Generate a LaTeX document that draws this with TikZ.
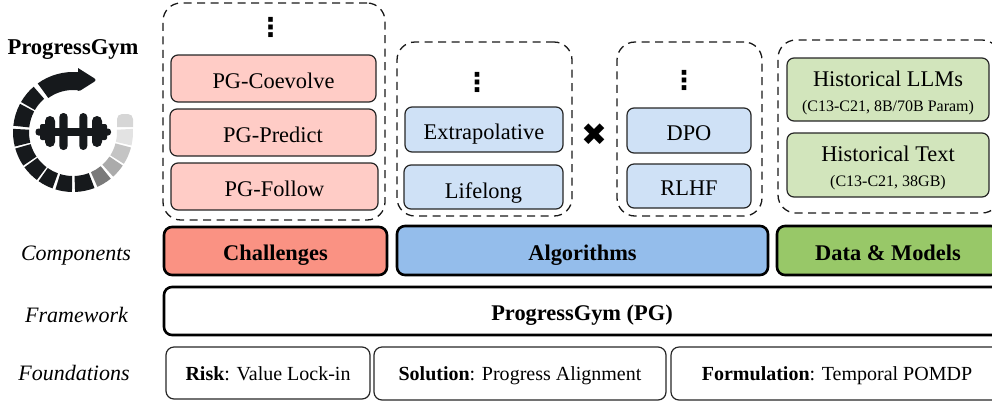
\documentclass[tikz,border=0pt]{standalone}
\usepackage{fontspec}
\setmainfont{Liberation Serif}
\newfontfamily\symbolfont{DejaVu Sans}
\usetikzlibrary{positioning}
\definecolor{pglogo}{RGB}{22,25,28}
\definecolor{challengepink}{RGB}{255,204,198}
\definecolor{challengered}{RGB}{250,146,131}
\definecolor{algolight}{RGB}{207,225,246}
\definecolor{algoblue}{RGB}{148,189,235}
\definecolor{datalight}{RGB}{210,229,188}
\definecolor{datagreen}{RGB}{152,200,104}
\tikzset{
  itembox/.style={draw=black!85,line width=1.2pt,rounded corners=7pt,inner sep=0pt,text height=20pt,text depth=0.6pt,font=\fontsize{22.4}{24}\selectfont},
  databox/.style={draw=black!85,line width=1.2pt,rounded corners=7pt,inner sep=0pt,align=center,font=\fontsize{22.4}{24}\selectfont},
  groupbox/.style={draw=black!90,line width=1.3pt,dash pattern=on 8pt off 5.5pt,rounded corners=18pt,inner sep=0pt},
  layerbox/.style={draw=black,line width=2.6pt,rounded corners=8pt,inner sep=0pt,text height=20pt,text depth=0.6pt,font=\fontsize{22.4}{24}\selectfont\bfseries},
  basebox/.style={draw=black!85,line width=1.2pt,rounded corners=8pt,inner sep=0pt,text height=14.5pt,text depth=0.5pt,font=\fontsize{20}{22}\selectfont},
  rowlabel/.style={anchor=base,font=\fontsize{22}{24}\selectfont\itshape},
  moredots/.style={font=\fontsize{26}{26}\symbolfont\bfseries}
}
\newcommand{\ringseg}[3]{\fill[#1] (#2:60pt) arc[start angle=#2,end angle=#3,radius=60pt] -- (#3:44pt) arc[start angle=#3,end angle=#2,radius=44pt] -- cycle;}
\newcommand{\subtext}[1]{{\fontsize{16}{17}\selectfont #1}}
\begin{document}
\begin{tikzpicture}[x=1pt,y=-1pt]
\useasboundingbox (0,0) rectangle (992,400);
% Logo
\node[anchor=base,font=\fontsize{22.6}{24}\selectfont\bfseries] (logotitle) at (73,54.3) {ProgressGym};
\begin{scope}[shift={(73,132)},y=1pt]
\foreach \startang/\endang in {-69/-88,-91/-107,-110/-125,-127/-144,-146/-164,-166/-183,-186/-208,-210/-229}
  {\ringseg{pglogo}{\startang}{\endang}}
\ringseg{black!52}{-51}{-66}
\ringseg{black!33}{-34}{-48}
\ringseg{black!23}{-15}{-32}
\ringseg{black!11}{3}{-13}
\fill[black!16] (44,5) -- (60,5) [rounded corners=5pt] -- (60,18) -- (44,18) [sharp corners] -- cycle;
\fill[pglogo] (126:60pt) arc[start angle=126,end angle=85,radius=60pt] -- (5,64) [rounded corners=3pt] -- (24,52) -- (5,40) [sharp corners] -- (85:42pt) arc[start angle=85,end angle=126,radius=42pt] -- cycle;
% Dumbbell
\fill[pglogo,rounded corners=3pt] (-37.5,-3.5) rectangle (38,3.5);
\fill[pglogo] (-19,-4) rectangle (20,4);
\fill[pglogo,rounded corners=4pt] (-13.7,-18) rectangle (-5.3,19);
\fill[pglogo,rounded corners=4pt] (6.3,-18) rectangle (14.3,19);
\fill[pglogo,rounded corners=5pt] (-28,-15) rectangle (-18,16);
\fill[pglogo,rounded corners=5pt] (19,-15) rectangle (29,16);
\fill[pglogo,rounded corners=2pt] (-33,-8) rectangle (-25,8);
\fill[pglogo,rounded corners=2pt] (26,-8) rectangle (34,8);
\end{scope}
% Dashed groups
\node[groupbox,minimum width=222pt,minimum height=217pt] (challengegroup) at (274,111.5) {};
\node[groupbox,minimum width=175pt,minimum height=174pt] (algogroup) at (484.5,129) {};
\node[groupbox,minimum width=145pt,minimum height=174pt] (rewardgroup) at (689.5,129) {};
\node[groupbox,minimum width=222pt,minimum height=173pt] (datagroup) at (889,126.5) {};
\node[moredots] (challengedots) at (270.5,27.5) {⋮};
\node[moredots] (algodots) at (477,82) {⋮};
\node[moredots] (rewarddots) at (684,80.5) {⋮};
\node[font=\fontsize{31}{31}\symbolfont] (crossmark) at (594,135) {✖};
% Challenges
\node[itembox,fill=challengepink,minimum width=205pt,minimum height=47pt] (coevolve) at (273.5,78.5) {PG-Coevolve};
\node[itembox,fill=challengepink,minimum width=206pt,minimum height=47pt] (predict) at (273,132.5) {PG-Predict};
\node[itembox,fill=challengepink,minimum width=207pt,minimum height=47pt] (follow) at (274.5,186.5) {PG-Follow};
% Algorithms
\node[itembox,fill=algolight,minimum width=158pt,minimum height=45pt] (extrapolative) at (484,129.5) {Extrapolative};
\node[itembox,fill=algolight,minimum width=159pt,minimum height=44pt,text height=22pt,text depth=0pt] (lifelong) at (483.5,187) {Lifelong};
\node[itembox,fill=algolight,minimum width=124pt,minimum height=45pt] (dpo) at (689,130.5) {DPO};
\node[itembox,fill=algolight,minimum width=124pt,minimum height=44pt] (rlhf) at (689,186) {RLHF};
% Data and models
\node[databox,fill=datalight,minimum width=202pt,minimum height=63pt] (llms) at (888,89.5) {\rule{0pt}{22pt}Historical LLMs\\[1pt]\subtext{(C13-C21, 8B/70B Param)}};
\node[databox,fill=datalight,minimum width=202pt,minimum height=64pt] (histtext) at (888,165) {\rule{0pt}{22pt}Historical Text\\[1pt]\subtext{(C13-C21, 38GB)}};
% Layers
\node[layerbox,fill=challengered,minimum width=223pt,minimum height=48pt] (challenges) at (275.5,251) {Challenges};
\node[layerbox,fill=algoblue,minimum width=371pt,minimum height=49pt] (algorithms) at (582.5,250.5) {Algorithms};
\node[layerbox,fill=datagreen,minimum width=222pt,minimum height=49pt] (datamodels) at (888,250.5) {Data \& Models};
\node[layerbox,fill=white,minimum width=836pt,minimum height=48pt] (framework) at (582,311) {ProgressGym (PG)};
% Foundations
\node[basebox,minimum width=204pt,minimum height=52pt] (risk) at (268,373) {\textbf{Risk}: Value Lock-in};
\node[basebox,minimum width=292pt,minimum height=53pt] (solution) at (520,373.5) {\textbf{Solution}: Progress Alignment};
\node[basebox,minimum width=332pt,minimum height=53pt] (formulation) at (837,373.5) {\textbf{Formulation}: Temporal POMDP};
% Row labels
\node[rowlabel] (componentslabel) at (76,260) {Components};
\node[rowlabel] (frameworklabel) at (76.5,322.7) {Framework};
\node[rowlabel] (foundationslabel) at (74,380.7) {Foundations};
\end{tikzpicture}
\end{document}
